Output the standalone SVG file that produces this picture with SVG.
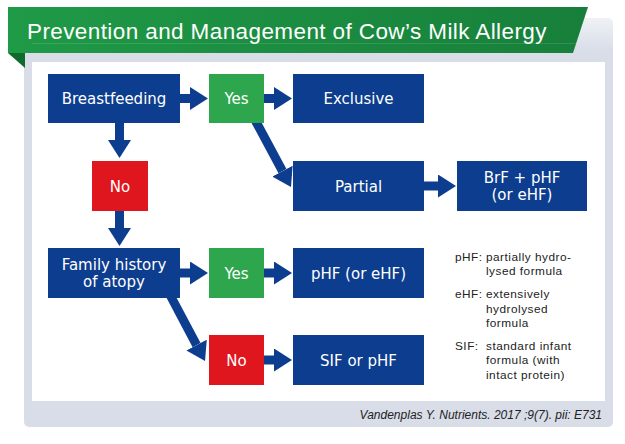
<svg xmlns="http://www.w3.org/2000/svg" width="625" height="444" viewBox="0 0 625 444">
<defs>
<style>
.navy{fill:#0d3d8e}
.yes{fill:#2ea64e}
.no{fill:#e0161e}
.t{font-family:"DejaVu Sans",sans-serif;font-size:15px;fill:#ffffff;text-anchor:middle}
.lg{font-family:"Liberation Sans",Arial,sans-serif;font-size:11.8px;fill:#222222;letter-spacing:0.5px}
.cn{stroke:#0d3d8e;stroke-width:9;fill:none}
</style>
<marker id="ah" viewBox="0 0 18 23" refX="0" refY="11.5" markerWidth="18" markerHeight="23" markerUnits="userSpaceOnUse" orient="auto">
<path d="M0,0 L18,11.5 L0,23 Z" fill="#0d3d8e"/>
</marker>
<linearGradient id="bg" x1="0" y1="0" x2="1" y2="0">
<stop offset="0" stop-color="#1f9a47"/>
<stop offset="1" stop-color="#177f3a"/>
</linearGradient>
<linearGradient id="fr" x1="0" y1="0" x2="0" y2="1">
<stop offset="0" stop-color="#d8dde8" stop-opacity="0.4"/>
<stop offset="0.08" stop-color="#d8dde8"/>
<stop offset="1" stop-color="#d8dde8"/>
</linearGradient>
</defs>
<rect width="625" height="444" fill="#ffffff"/>
<g id="frame">
<rect x="24" y="18" width="589" height="409" rx="5" fill="url(#fr)"/>
<rect x="32" y="62" width="573" height="339" fill="#ffffff"/>
</g>
<g id="banner">
<polygon points="8,53 25,53 25,68" fill="#0e6a2d"/>
<polygon points="8,7 588,7 573,53 8,53" fill="url(#bg)"/>
<line x1="32" y1="43.5" x2="576" y2="43.5" stroke="#ffffff" stroke-opacity="0.12" stroke-width="1"/>
<text x="27" y="38.5" font-family="Liberation Sans, Arial, sans-serif" font-size="22.5" letter-spacing="0.4" fill="#ffffff">Prevention and Management of Cow’s Milk Allergy</text>
</g>
<g id="connectors">
<line class="cn" x1="178" y1="98.5" x2="190" y2="98.5" marker-end="url(#ah)"/>
<line class="cn" x1="262" y1="98.5" x2="274" y2="98.5" marker-end="url(#ah)"/>
<line class="cn" x1="119.5" y1="121" x2="119.5" y2="140" marker-end="url(#ah)"/>
<line class="cn" x1="119.5" y1="209" x2="119.5" y2="228" marker-end="url(#ah)"/>
<line class="cn" x1="254.5" y1="119" x2="282.5" y2="171.2" marker-end="url(#ah)"/>
<line class="cn" x1="422" y1="186" x2="438" y2="186" marker-end="url(#ah)"/>
<line class="cn" x1="178" y1="273" x2="190" y2="273" marker-end="url(#ah)"/>
<line class="cn" x1="262" y1="273" x2="274" y2="273" marker-end="url(#ah)"/>
<line class="cn" x1="169" y1="293" x2="196.6" y2="345.1" marker-end="url(#ah)"/>
<line class="cn" x1="262" y1="360" x2="274" y2="360" marker-end="url(#ah)"/>
</g>
<g id="breastfeeding">
<rect class="navy" x="48" y="74" width="132" height="49"/>
<text class="t" x="114" y="104">Breastfeeding</text>
</g>
<g id="yes1">
<rect class="yes" x="209" y="74" width="55" height="49"/>
<text class="t" x="236.5" y="104">Yes</text>
</g>
<g id="exclusive">
<rect class="navy" x="293" y="74" width="131" height="49"/>
<text class="t" x="358.5" y="104">Exclusive</text>
</g>
<g id="no1">
<rect class="no" x="92" y="161" width="56" height="50"/>
<text class="t" x="120" y="191.5">No</text>
</g>
<g id="partial">
<rect class="navy" x="293" y="161" width="131" height="50"/>
<text class="t" x="358.5" y="191.5">Partial</text>
</g>
<g id="brf">
<rect class="navy" x="457" y="161" width="130" height="50"/>
<text class="t" x="522" y="183">BrF + pHF</text>
<text class="t" x="522" y="200">(or eHF)</text>
</g>
<g id="family">
<rect class="navy" x="48" y="248" width="132" height="50"/>
<text class="t" x="114" y="270">Family history</text>
<text class="t" x="114" y="287">of atopy</text>
</g>
<g id="yes2">
<rect class="yes" x="209" y="248" width="55" height="50"/>
<text class="t" x="236.5" y="278.5">Yes</text>
</g>
<g id="phf">
<rect class="navy" x="293" y="248" width="131" height="50"/>
<text class="t" x="358.5" y="278.5">pHF (or eHF)</text>
</g>
<g id="no2">
<rect class="no" x="209" y="335" width="55" height="50"/>
<text class="t" x="236.5" y="365.5">No</text>
</g>
<g id="sif">
<rect class="navy" x="293" y="335" width="131" height="50"/>
<text class="t" x="358.5" y="365.5">SIF or pHF</text>
</g>
<g id="legend">
<text class="lg" x="455" y="261">pHF:</text>
<text class="lg" x="486" y="261" letter-spacing="0.3">partially hydro-</text>
<text class="lg" x="486" y="275">lysed formula</text>
<text class="lg" x="455" y="298">eHF:</text>
<text class="lg" x="486" y="298">extensively</text>
<text class="lg" x="486" y="313">hydrolysed</text>
<text class="lg" x="486" y="327">formula</text>
<text class="lg" x="455" y="350">SIF:</text>
<text class="lg" x="486" y="350">standard infant</text>
<text class="lg" x="486" y="364">formula (with</text>
<text class="lg" x="486" y="379">intact protein)</text>
</g>
<text x="602" y="419" text-anchor="end" font-family="Liberation Sans, Arial, sans-serif" font-size="12" font-style="italic" fill="#222222">Vandenplas Y. Nutrients. 2017 ;9(7). pii: E731</text>
</svg>
